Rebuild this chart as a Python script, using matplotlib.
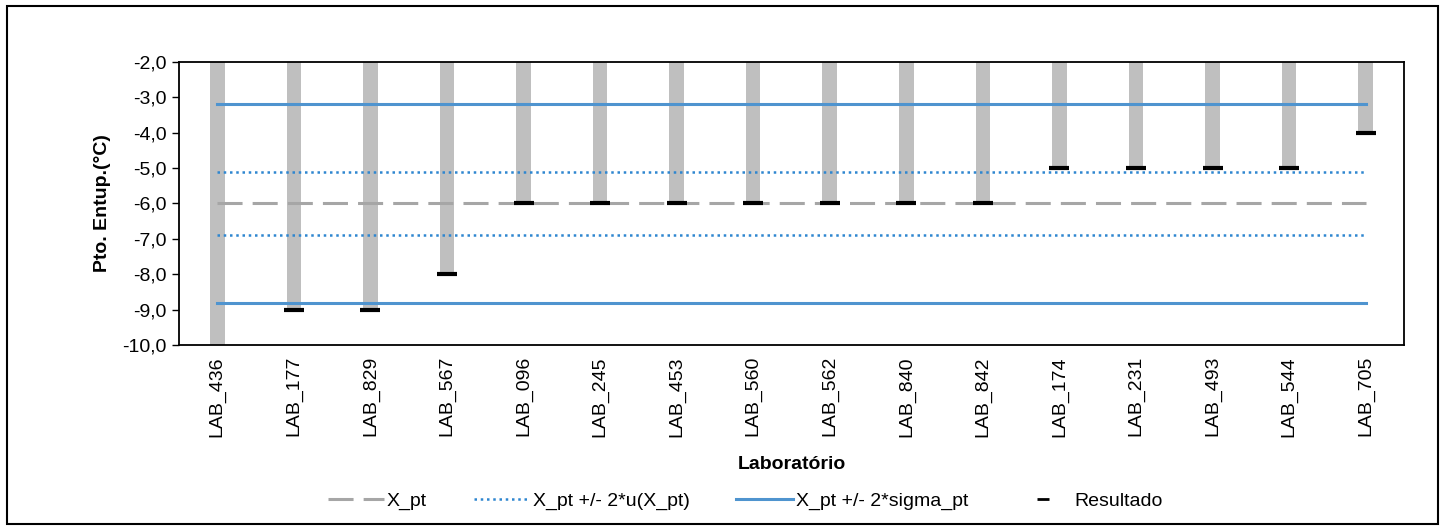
import matplotlib
matplotlib.use("Agg")
import matplotlib.pyplot as plt
from matplotlib.lines import Line2D
from matplotlib.patches import Rectangle

labs = ["LAB_436", "LAB_177", "LAB_829", "LAB_567", "LAB_096", "LAB_245", "LAB_453",
        "LAB_560", "LAB_562", "LAB_840", "LAB_842", "LAB_174", "LAB_231", "LAB_493",
        "LAB_544", "LAB_705"]
resultado = [-11.0, -9.0, -9.0, -8.0, -6.0, -6.0, -6.0, -6.0, -6.0, -6.0, -6.0,
             -5.0, -5.0, -5.0, -5.0, -4.0]
x_pt = -6.0
u_lo, u_hi = -6.88, -5.12
s_lo, s_hi = -8.8, -3.2
y_top = -2.0
y_ticks = [-2, -3, -4, -5, -6, -7, -8, -9, -10]

plt.rcParams['font.family'] = ['Liberation Sans', 'DejaVu Sans']
FS = 14

fig = plt.figure(figsize=(14.48, 5.31), dpi=100)
ax = fig.add_axes([0.1236, 0.3503, 0.846, 0.533])

xs = list(range(len(labs)))
heights = [r - y_top for r in resultado]
ax.bar(xs, heights, bottom=y_top, width=0.19, color='#bfbfbf', zorder=1)

dash_style = dict(color='#a6a6a6', lw=2.2, dashes=(8.2, 3.3))
dot_style = dict(color='#2e86d0', lw=1.8, ls=(0, (1, 1.5)))
solid_style = dict(color='#4f94cf', lw=2.2)

x0, x1 = xs[0], xs[-1]
ax.plot([x0, x1], [x_pt, x_pt], zorder=2, **dash_style)
for v in (u_lo, u_hi):
    ax.plot([x0, x1], [v, v], zorder=2, **dot_style)
for v in (s_lo, s_hi):
    ax.plot([x0, x1], [v, v], zorder=2, **solid_style)
ax.plot(xs, resultado, ls='none', marker='_', ms=15, mew=3, color='black', zorder=3)

ax.set_xlim(-0.5, len(labs) - 0.5)
ax.set_ylim(-10, -2)
ax.set_yticks(y_ticks)
ax.set_yticklabels([f"{t:.1f}".replace('.', ',') for t in y_ticks], fontsize=FS)
ax.set_xticks(xs)
ax.set_xticklabels(labs, rotation=90, fontsize=FS)
ax.tick_params(axis='x', length=0, pad=8)
ax.tick_params(axis='y', length=5, width=1, pad=4)
for sp in ax.spines.values():
    sp.set_linewidth(1.3)
    sp.set_color('black')
ax.set_ylabel("Pto. Entup.(°C)", fontsize=FS, fontweight='bold', labelpad=8)
ax.set_xlabel("Laboratório", fontsize=FS, fontweight='bold', labelpad=14)

handles = [
    Line2D([], [], **dash_style),
    Line2D([], [], **dot_style),
    Line2D([], [], **solid_style),
    Line2D([], [], ls='none', marker='_', ms=9, mew=2, color='black'),
]
names = ["X_pt", "X_pt +/- 2*u(X_pt)", "X_pt +/- 2*sigma_pt", "Resultado"]
fig.legend(handles, names, loc='center', bbox_to_anchor=(0.5145, 0.056), ncol=4,
           frameon=False, fontsize=FS, handlelength=2.9, columnspacing=2.4,
           handletextpad=0.15)

fig.patches.append(Rectangle((0.005, 0.013), 0.988, 0.975, transform=fig.transFigure,
                             fill=False, edgecolor='black', lw=1.5))

fig.savefig("out.png", dpi=100)
